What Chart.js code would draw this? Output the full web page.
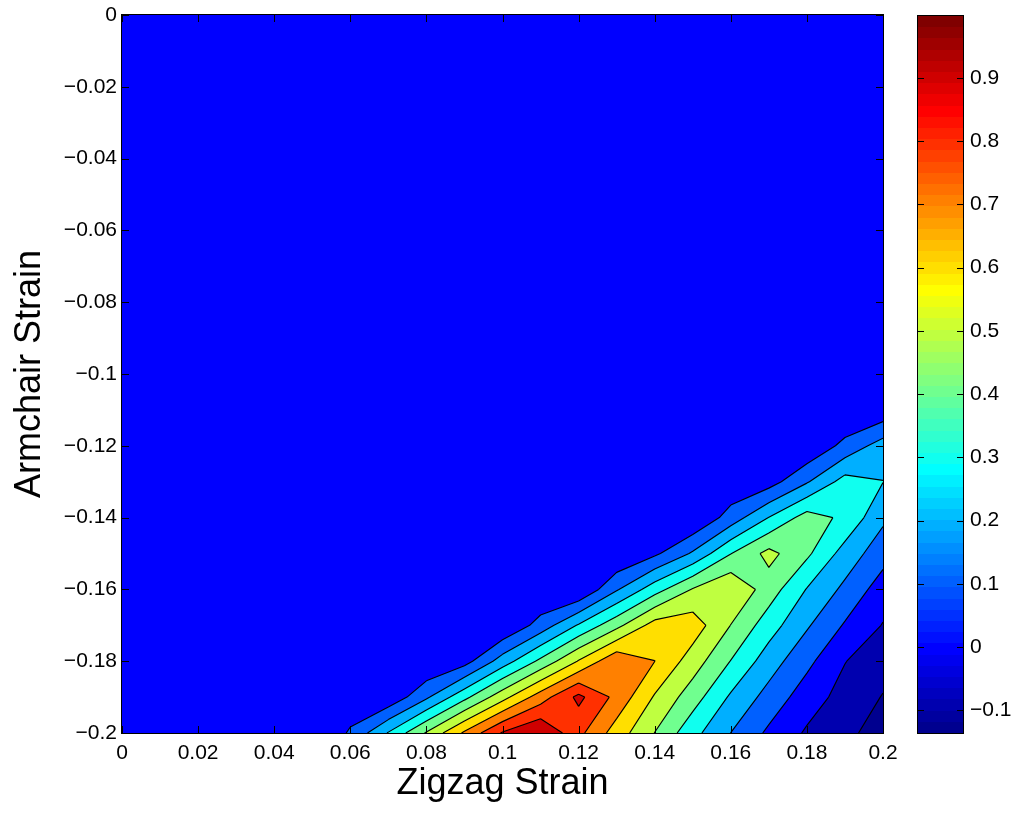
<!DOCTYPE html>
<html><head><meta charset="utf-8">
<script src="https://cdn.jsdelivr.net/npm/chart.js@4.4.1/dist/chart.umd.min.js"></script>
<style>
html,body{margin:0;padding:0;background:#fff;}
#wrap{position:relative;width:1018px;height:814px;overflow:hidden;}
#main{position:absolute;left:0;top:0;}
#cbar{position:absolute;left:900px;top:0;}
</style></head><body>
<div id="wrap"><canvas id="main" width="900" height="814"></canvas><canvas id="cbar" width="118" height="814"></canvas></div>
<script>
// ---- data ----
const zigzagStrain = [0,0.01,0.02,0.03,0.04,0.05,0.06,0.07,0.08,0.09,0.10,0.11,0.12,0.13,0.14,0.15,0.16,0.17,0.18,0.19,0.20];
const armchairStrain = [-0.20,-0.19,-0.18,-0.17,-0.16,-0.15,-0.14,-0.13,-0.12,-0.11,-0.10,-0.09,-0.08,-0.07,-0.06,-0.05,-0.04,-0.03,-0.02,-0.01,0];
// one row of values per armchair strain (left to right along zigzag strain)
const zAt_m020 = [0,0,0,0,0,0,0.112,0.307,0.51,0.716,0.91,0.998,0.828,0.653,0.498,0.332,0.199,0.081,-0.013,-0.08,-0.136];
const zAt_m019 = [0,0,0,0,0,0,0.04,0.02,0.183,0.371,0.563,0.751,0.925,0.77,0.59,0.446,0.285,0.163,0.048,-0.036,-0.105];
const zAt_m018 = [0,0,0,0,0,0,0,0,0,0.06,0.247,0.424,0.607,0.782,0.701,0.551,0.397,0.248,0.126,0.003,-0.06];
const zAt_m017 = [0,0,0,0,0,0,0,0,0,0,0,0.14,0.31,0.469,0.643,0.654,0.498,0.346,0.212,0.09,-0.005];
const zAt_m016 = [0,0,0,0,0,0,0,0,0,0,0,0,0,0.19,0.357,0.508,0.591,0.451,0.295,0.177,0.05];
const zAt_m015 = [0,0,0,0,0,0,0,0,0,0,0,0,0,0,0.08,0.213,0.397,0.531,0.42,0.259,0.14];
const zAt_m014 = [0,0,0,0,0,0,0,0,0,0,0,0,0,0,0,0,0.143,0.302,0.443,0.38,0.22];
const zAt_m013 = [0,0,0,0,0,0,0,0,0,0,0,0,0,0,0,0,0.02,0.056,0.19,0.34,0.302];
const zAt_m012 = [0,0,0,0,0,0,0,0,0,0,0,0,0,0,0,0,0,0,0.01,0.13,0.246];
const zAt_m011 = [0,0,0,0,0,0,0,0,0,0,0,0,0,0,0,0,0,0,0,0,0.029];
const zAt_m010 = [0,0,0,0,0,0,0,0,0,0,0,0,0,0,0,0,0,0,0,0,0];
const zAt_m009 = [0,0,0,0,0,0,0,0,0,0,0,0,0,0,0,0,0,0,0,0,0];
const zAt_m008 = [0,0,0,0,0,0,0,0,0,0,0,0,0,0,0,0,0,0,0,0,0];
const zAt_m007 = [0,0,0,0,0,0,0,0,0,0,0,0,0,0,0,0,0,0,0,0,0];
const zAt_m006 = [0,0,0,0,0,0,0,0,0,0,0,0,0,0,0,0,0,0,0,0,0];
const zAt_m005 = [0,0,0,0,0,0,0,0,0,0,0,0,0,0,0,0,0,0,0,0,0];
const zAt_m004 = [0,0,0,0,0,0,0,0,0,0,0,0,0,0,0,0,0,0,0,0,0];
const zAt_m003 = [0,0,0,0,0,0,0,0,0,0,0,0,0,0,0,0,0,0,0,0,0];
const zAt_m002 = [0,0,0,0,0,0,0,0,0,0,0,0,0,0,0,0,0,0,0,0,0];
const zAt_m001 = [0,0,0,0,0,0,0,0,0,0,0,0,0,0,0,0,0,0,0,0,0];
const zAt_000  = [0,0,0,0,0,0,0,0,0,0,0,0,0,0,0,0,0,0,0,0,0];
const contourLevels = [-0.1,0,0.1,0.2,0.3,0.4,0.5,0.6,0.7,0.8,0.9];
const xTickValues = [0,0.02,0.04,0.06,0.08,0.1,0.12,0.14,0.16,0.18,0.2];
const xTickLabels = ['0','0.02','0.04','0.06','0.08','0.1','0.12','0.14','0.16','0.18','0.2'];
const yTickValues = [-0.2,-0.18,-0.16,-0.14,-0.12,-0.1,-0.08,-0.06,-0.04,-0.02,0];
const yTickLabels = ['\u22120.2','\u22120.18','\u22120.16','\u22120.14','\u22120.12','\u22120.1','\u22120.08','\u22120.06','\u22120.04','\u22120.02','0'];
const cbTickValues = [-0.1,0,0.1,0.2,0.3,0.4,0.5,0.6,0.7,0.8,0.9];
const cbTickLabels = ['\u22120.1','0','0.1','0.2','0.3','0.4','0.5','0.6','0.7','0.8','0.9'];

const zGrid = [zAt_m020,zAt_m019,zAt_m018,zAt_m017,zAt_m016,zAt_m015,zAt_m014,zAt_m013,zAt_m012,zAt_m011,
  zAt_m010,zAt_m009,zAt_m008,zAt_m007,zAt_m006,zAt_m005,zAt_m004,zAt_m003,zAt_m002,zAt_m001,zAt_000];
let cmin = Infinity, cmax = -Infinity;
zGrid.forEach(r => r.forEach(v => { if (v < cmin) cmin = v; if (v > cmax) cmax = v; }));

const FONT = '"Liberation Sans", Arial, Helvetica, sans-serif';

// MATLAB jet(64)
function jet64(i) {
  const n = 16, u = [];
  for (let k = 1; k <= n; k++) u.push(k / n);
  for (let k = 1; k < n; k++) u.push(1);
  for (let k = n; k >= 1; k--) u.push(k / n);
  const g = idx => (idx >= 1 && idx <= u.length) ? u[idx - 1] : 0;
  const r = g(i - 24), gr = g(i - 8), b = g(i + 8);
  return 'rgb(' + Math.round(r * 255) + ',' + Math.round(gr * 255) + ',' + Math.round(b * 255) + ')';
}
function colorFor(v) {
  let idx = Math.floor((v - cmin) / (cmax - cmin) * 64) + 1;
  idx = Math.max(1, Math.min(64, idx));
  return jet64(idx);
}

function cross(a, b, L) {
  const t = (L - a.v) / (b.v - a.v);
  return { x: a.x + t * (b.x - a.x), y: a.y + t * (b.y - a.y) };
}
function cellInfo(c, L) {
  const ins = c.map(p => p.v >= L);
  const cnt = ins.filter(Boolean).length;
  const saddle = cnt === 2 && ins[0] === ins[2];
  const joined = saddle ? ((c[0].v + c[1].v + c[2].v + c[3].v) / 4 >= L) : true;
  return { ins, cnt, saddle, joined };
}
function cellPolys(c, L) {
  const { ins, cnt, saddle, joined } = cellInfo(c, L);
  if (cnt === 0) return [];
  if (cnt === 4) return [c];
  if (saddle && !joined) {
    const out = [];
    for (let i = 0; i < 4; i++) if (ins[i]) {
      const prev = (i + 3) % 4, next = (i + 1) % 4;
      out.push([c[i], cross(c[i], c[next], L), cross(c[prev], c[i], L)]);
    }
    return out;
  }
  const pts = [];
  for (let i = 0; i < 4; i++) {
    const a = c[i], b = c[(i + 1) % 4];
    if (ins[i]) pts.push(a);
    if (ins[i] !== ins[(i + 1) % 4]) pts.push(cross(a, b, L));
  }
  return [pts];
}
function cellSegs(c, L) {
  const { ins, cnt, saddle, joined } = cellInfo(c, L);
  if (cnt === 0 || cnt === 4) return [];
  const e = [];
  for (let i = 0; i < 4; i++) e.push(ins[i] !== ins[(i + 1) % 4] ? cross(c[i], c[(i + 1) % 4], L) : null);
  if (!saddle) {
    const p = e.filter(Boolean);
    return [[p[0], p[1]]];
  }
  const segs = [];
  for (let i = 0; i < 4; i++) {
    const isolated = joined ? !ins[i] : ins[i];
    if (isolated) segs.push([e[(i + 3) % 4], e[i]]);
  }
  return segs;
}

function zeroPad(s) { s.paddingLeft = 0; s.paddingRight = 0; s.paddingTop = 0; s.paddingBottom = 0; }

const contourPlugin = {
  id: 'contourf',
  beforeDatasetsDraw(chart) {
    const { ctx, chartArea: a, scales: { x, y } } = chart;
    const X = zigzagStrain.map(v => x.getPixelForValue(v));
    const Y = armchairStrain.map(v => y.getPixelForValue(v));
    const cells = [];
    for (let j = 0; j < Y.length - 1; j++) for (let k = 0; k < X.length - 1; k++) {
      cells.push([
        { x: X[k], y: Y[j], v: zGrid[j][k] },
        { x: X[k + 1], y: Y[j], v: zGrid[j][k + 1] },
        { x: X[k + 1], y: Y[j + 1], v: zGrid[j + 1][k + 1] },
        { x: X[k], y: Y[j + 1], v: zGrid[j + 1][k] }
      ]);
    }
    ctx.save();
    ctx.beginPath();
    ctx.rect(a.left, a.top, a.right - a.left, a.bottom - a.top);
    ctx.clip();
    ctx.fillStyle = colorFor(cmin);
    ctx.fillRect(a.left, a.top, a.right - a.left, a.bottom - a.top);
    for (const L of contourLevels) {
      ctx.beginPath();
      for (const c of cells) {
        for (const poly of cellPolys(c, L)) {
          ctx.moveTo(poly[0].x, poly[0].y);
          for (let i = 1; i < poly.length; i++) ctx.lineTo(poly[i].x, poly[i].y);
          ctx.closePath();
        }
      }
      ctx.fillStyle = colorFor(L);
      ctx.fill('nonzero');
    }
    ctx.beginPath();
    for (const L of contourLevels) {
      for (const c of cells) {
        for (const s of cellSegs(c, L)) {
          ctx.moveTo(s[0].x, s[0].y);
          ctx.lineTo(s[1].x, s[1].y);
        }
      }
    }
    ctx.strokeStyle = '#000';
    ctx.lineWidth = 1.15;
    ctx.stroke();
    ctx.restore();
  },
  afterDraw(chart) {
    const { ctx, chartArea: a, scales: { x, y } } = chart;
    ctx.save();
    ctx.strokeStyle = '#000';
    ctx.lineWidth = 1;
    ctx.beginPath();
    const tl = 7;
    xTickValues.forEach(v => {
      const p = Math.round(x.getPixelForValue(v)) + 0.5;
      ctx.moveTo(p, a.bottom); ctx.lineTo(p, a.bottom - tl);
      ctx.moveTo(p, a.top); ctx.lineTo(p, a.top + tl);
    });
    yTickValues.forEach(v => {
      const p = Math.round(y.getPixelForValue(v)) + 0.5;
      ctx.moveTo(a.left, p); ctx.lineTo(a.left + tl, p);
      ctx.moveTo(a.right, p); ctx.lineTo(a.right - tl, p);
    });
    ctx.stroke();
    ctx.strokeRect(Math.round(a.left) - 0.5, Math.round(a.top) - 0.5, Math.round(a.right - a.left) + 1, Math.round(a.bottom - a.top) + 1);
    ctx.restore();
  }
};

new Chart(document.getElementById('main'), {
  type: 'scatter',
  data: { datasets: [] },
  options: {
    responsive: false, animation: false, devicePixelRatio: 1,
    layout: { padding: { top: 15, right: 17, bottom: 0, left: 0 } },
    plugins: { legend: { display: false }, tooltip: { enabled: false } },
    scales: {
      x: {
        type: 'linear', min: 0, max: 0.2,
        grid: { display: false, drawTicks: false }, border: { display: false },
        afterBuildTicks: s => { s.ticks = xTickValues.map(v => ({ value: v })); },
        afterFit: s => { s.height = 81; zeroPad(s); },
        ticks: { autoSkip: false, maxRotation: 0, padding: 8, color: '#000', font: { family: FONT, size: 21 }, callback: (v, i) => xTickLabels[i] },
        title: { display: true, text: 'Zigzag Strain', color: '#000', font: { family: FONT, size: 36 }, padding: { top: 0, bottom: 8 } }
      },
      y: {
        type: 'linear', min: -0.2, max: 0,
        grid: { display: false, drawTicks: false }, border: { display: false },
        afterBuildTicks: s => { s.ticks = yTickValues.map(v => ({ value: v })); },
        afterFit: s => { s.width = 122; zeroPad(s); },
        ticks: { autoSkip: false, padding: 5, color: '#000', font: { family: FONT, size: 21 }, callback: (v, i) => yTickLabels[i] },
        title: { display: true, text: 'Armchair Strain', color: '#000', font: { family: FONT, size: 36 }, padding: { top: 8, bottom: 0 } }
      }
    }
  },
  plugins: [contourPlugin]
});

const colorbarPlugin = {
  id: 'colorbar',
  beforeDatasetsDraw(chart) {
    const { ctx, chartArea: a, scales: { y } } = chart;
    ctx.save();
    const step = (cmax - cmin) / 64;
    for (let i = 0; i < 64; i++) {
      const p0 = Math.round(y.getPixelForValue(cmin + i * step));
      const p1 = Math.round(y.getPixelForValue(cmin + (i + 1) * step));
      ctx.fillStyle = jet64(i + 1);
      ctx.fillRect(Math.round(a.left), p1, Math.round(a.right - a.left), p0 - p1);
    }
    ctx.strokeStyle = '#000';
    ctx.lineWidth = 1;
    ctx.beginPath();
    cbTickValues.forEach(v => {
      const p = Math.round(y.getPixelForValue(v)) + 0.5;
      ctx.moveTo(a.left, p); ctx.lineTo(a.left + 6, p);
      ctx.moveTo(a.right, p); ctx.lineTo(a.right - 6, p);
    });
    ctx.stroke();
    ctx.strokeRect(Math.round(a.left) - 0.5, Math.round(a.top) - 0.5, Math.round(a.right - a.left) + 1, Math.round(a.bottom - a.top) + 1);
    ctx.restore();
  }
};

new Chart(document.getElementById('cbar'), {
  type: 'scatter',
  data: { datasets: [] },
  options: {
    responsive: false, animation: false, devicePixelRatio: 1,
    layout: { padding: { top: 16, right: 0, bottom: 81, left: 18 } },
    plugins: { legend: { display: false }, tooltip: { enabled: false } },
    scales: {
      x: { type: 'linear', min: 0, max: 1, display: false, afterFit: s => { s.height = 0; zeroPad(s); } },
      y: {
        type: 'linear', position: 'right', min: cmin, max: cmax,
        grid: { display: false, drawTicks: false }, border: { display: false },
        afterBuildTicks: s => { s.ticks = cbTickValues.map(v => ({ value: v })); },
        afterFit: s => { s.width = 55; zeroPad(s); },
        ticks: { autoSkip: false, padding: 7, color: '#000', font: { family: FONT, size: 21 }, callback: (v, i) => cbTickLabels[i] }
      }
    }
  },
  plugins: [colorbarPlugin]
});
</script>
</body></html>
